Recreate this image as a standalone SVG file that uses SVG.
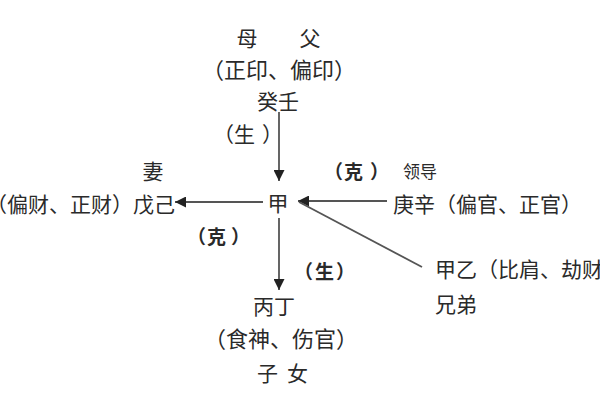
<svg xmlns="http://www.w3.org/2000/svg" width="600" height="400" viewBox="0 0 600 400">
<defs>
<style>
text{font-family:"Noto Sans CJK SC","Noto Sans",sans-serif;fill:#2a2a2a;font-size:21px;dominant-baseline:central}
.l{font-size:22px}
.b{font-weight:bold;font-size:19px}
.s{font-size:17px}
.ln{stroke:#555;stroke-width:1.8;fill:none}
</style>
<marker id="ahb" viewBox="0 0 10 10" refX="10" refY="5" markerWidth="11" markerHeight="11" orient="auto" markerUnits="userSpaceOnUse">
<path d="M0,0L10,5L0,10z" fill="#222"/>
</marker>
</defs>
<rect width="600" height="400" fill="#fff"/>
<g id="connectors">
<line class="ln" x1="279" y1="112" x2="279" y2="181" marker-end="url(#ahb)"/>
<line class="ln" x1="263" y1="202" x2="175" y2="202" marker-end="url(#ahb)"/>
<line class="ln" x1="387" y1="201" x2="298" y2="201" marker-end="url(#ahb)"/>
<line class="ln" x1="422" y1="267" x2="299" y2="202"/>
<line class="ln" x1="279" y1="218" x2="279" y2="290" marker-end="url(#ahb)"/>
</g>
<g id="node-parents">
<text x="247" y="37" text-anchor="middle">母</text>
<text x="310" y="37" text-anchor="middle">父</text>
<text class="l" x="202" y="68">（正印、偏印）</text>
<text x="278" y="100" text-anchor="middle">癸壬</text>
</g>
<g id="label-top"><text x="213 234 262" y="133">（生）</text></g>
<g id="node-self"><text x="278" y="202" text-anchor="middle">甲</text></g>
<g id="node-wife">
<text x="153" y="170" text-anchor="middle">妻</text>
<text x="175" y="203" text-anchor="end">（偏财、正财）戊己</text>
</g>
<g id="label-left"><text class="b" x="187 207 231" y="235">（克）</text></g>
<g id="node-leader">
<text class="b" x="324 344 370" y="170">（克）</text>
<text class="s" x="403" y="170">领导</text>
<text x="393" y="203">庚辛（偏官、正官）</text>
</g>
<g id="node-siblings">
<text x="435" y="268">甲乙（比肩、劫财</text>
<text x="435" y="303">兄弟</text>
</g>
<g id="label-bottom"><text class="b" x="294 315 336" y="270">（生）</text></g>
<g id="node-children">
<text x="274" y="305" text-anchor="middle">丙丁</text>
<text class="l" x="204" y="337">（食神、伤官）</text>
<text x="257" y="372">子</text>
<text x="287" y="372">女</text>
</g>
</svg>
